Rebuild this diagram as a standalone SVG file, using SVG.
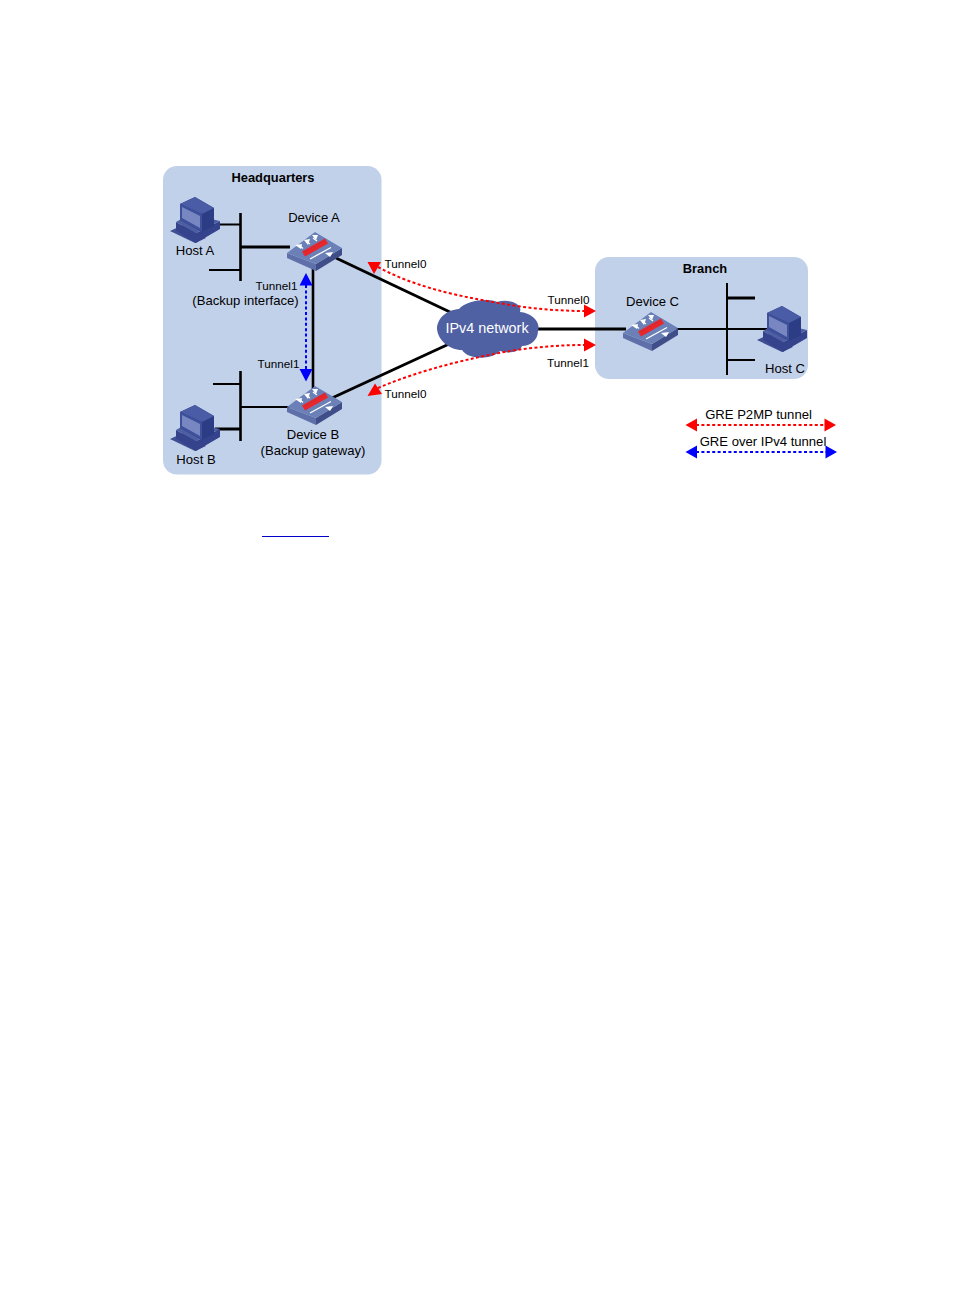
<svg xmlns="http://www.w3.org/2000/svg" width="954" height="1294" viewBox="0 0 954 1294">
  <style>
    text { font-family: "Liberation Sans", Arial, sans-serif; fill: #000; }
    .lbl { font-size: 13.100px; text-anchor: middle; }
    .tun { font-size: 11.700px; text-anchor: middle; }
    .hdr { font-size: 12.900px; font-weight: bold; text-anchor: middle; }
    .link { stroke: #000; fill: none; stroke-linecap: butt; }
    .red { stroke: #f00; stroke-width: 2; stroke-dasharray: 3 2.4; fill: none; }
    .blue { stroke: #00f; stroke-width: 2; stroke-dasharray: 3 2.4; fill: none; }
  </style>
  <defs>
    <!-- Router drawn at the Device A position; other routers are translated copies -->
    <g id="router">
      <path d="M287 253 L316 264 L316 271 L287 258 Z" fill="#5f6fa9"/>
      <path d="M316 264 L342 248 L342 255 L316 271 Z" fill="#3f4d88"/>
      <path d="M287 253 L315 232 L342 248 L316 264 Z" fill="#6a80b6"/>
      <path d="M302 251.500 L325 238.500 L328 243.500 L305 256.500 Z" fill="#e8262c"/>
      <path d="M305 251.500 L325 240.500" stroke="#a83040" stroke-width="0.800" stroke-dasharray="1.500 1.500" fill="none"/>
      <path d="M310 259 L331 247.500" stroke="#fff" stroke-width="1.300" fill="none"/>
      <path d="M325 253 L330 257 L333 252 Z" fill="#fff"/>
      <path d="M300 246 L303 248.500 M306 241 L310 244 M313 238 L317 241" stroke="#fff" stroke-width="1.300" fill="none"/>
      <path d="M295 245 L301 249 L302 244 Z M304 240 L308 245 L310 239 Z M312 235 L316 240 L318 235 Z" fill="#fff"/>
    </g>
    <!-- Desktop computer drawn at the Host A position -->
    <g id="host">
      <path d="M170 231 L183 225 L206 238 L195 243 Z" fill="#3f4e93"/>
      <path d="M175 231 L184 227 L199 237 L194 240 Z" fill="#4d5ea2"/>
      <path d="M176 222 L196 233 L220 221 L220 229 L196 243 L176 231 Z" fill="#34438c"/>
      <path d="M176 222 L190 214 L220 221 L196 233 Z" fill="#4d5ea2"/>
      <path d="M180 204 L195 197 L214 208 L214 226 L202 232 L180 220 Z" fill="#2c3c85"/>
      <path d="M180 204 L195 197 L214 208 L202 214 Z" fill="#4a5ca5"/>
      <path d="M180 204 L202 214 L202 232 L180 220 Z" fill="#3e5099"/>
      <path d="M182 207 L200 216 L200 228 L182 218 Z" fill="#7886c2"/>
    </g>
  </defs>

  <g id="regions">
    <rect id="headquarters" x="163" y="166" width="218.500" height="308.500" rx="14" fill="#c2d1ea"/>
    <rect id="branch" x="595" y="257" width="213" height="122" rx="14" fill="#c2d1ea"/>
  </g>
  <text class="hdr" x="273" y="182">Headquarters</text>
  <text class="hdr" x="705" y="273">Branch</text>

  <g id="connectors">
    <path class="link" stroke-width="2.600" d="M240.500 213 V281"/>
    <path class="link" stroke-width="2" d="M218 224.500 H240"/>
    <path class="link" stroke-width="3" d="M240 247 H290"/>
    <path class="link" stroke-width="2" d="M209 270 H240"/>
    <path class="link" stroke-width="2.600" d="M240.500 371 V441"/>
    <path class="link" stroke-width="2" d="M213 384 H240"/>
    <path class="link" stroke-width="2" d="M240 407 H290"/>
    <path class="link" stroke-width="3" d="M215 429 H240"/>
    <path class="link" stroke-width="2.600" d="M313 268 V392"/>
    <path class="link" stroke-width="3" d="M336 258 L452 313"/>
    <path class="link" stroke-width="3" d="M332 398 L449 344"/>
    <path class="link" stroke-width="3" d="M536 329 H626"/>
    <path class="link" stroke-width="2" d="M676 329 H768"/>
    <path class="link" stroke-width="2" d="M727 283 V375"/>
    <path class="link" stroke-width="3" d="M727 298 H755"/>
    <path class="link" stroke-width="2" d="M727 360 H755"/>
  </g>

  <g id="device-a"><use href="#router"/><text class="lbl" x="314" y="222">Device A</text></g>
  <g id="device-b"><use href="#router" transform="translate(0 154)"/><text class="lbl" x="313" y="439">Device B</text><text class="lbl" x="313" y="455">(Backup gateway)</text></g>
  <g id="device-c"><use href="#router" transform="translate(336 80)"/><text class="lbl" x="652.500" y="306">Device C</text></g>
  <g id="host-a"><use href="#host"/><text class="lbl" x="195" y="255">Host A</text></g>
  <g id="host-b"><use href="#host" transform="translate(0 208)"/><text class="lbl" x="196" y="464">Host B</text></g>
  <g id="host-c"><use href="#host" transform="translate(587 109)"/><text class="lbl" x="785" y="373">Host C</text></g>

  <g id="ipv4-network">
    <path d="M459 309 C467 300 488 298 497 302 C509 298 523 304 520 312 C532 313 541 322 538 331 C538 340 530 346 522 346 C520 352 508 354 500 351 C492 360 468 360 462 350 C449 350 438 340 437 329 C437 318 447 310 459 309 Z" fill="#4f61a3"/>
    <text x="487" y="333" font-size="14.400" text-anchor="middle" style="fill:#fff">IPv4 network</text>
  </g>

  <g id="tunnels">
    <path class="red" d="M378 267 C420 290 470 298 510 305 C535 309 560 311 585 311"/>
    <path class="red" d="M378 388 C420 370 470 358 510 351 C535 347 560 345 585 345"/>
    <path class="blue" d="M306 285 V370"/>
    <path d="M367.500 262 L381 262 L374 274 Z M596 311 L584 304.500 L584 317.500 Z M367.500 396 L375 383.500 L382 394 Z M596 345 L584 338.500 L584 351.500 Z" fill="#f00"/>
    <path d="M306 273 L299.500 285.500 L312.500 285.500 Z M306 381.500 L299.500 369 L312.500 369 Z" fill="#00f"/>
  </g>
  <g id="tunnel-labels">
    <text class="tun" x="405.500" y="268">Tunnel0</text>
    <text class="tun" x="568.500" y="304">Tunnel0</text>
    <text class="tun" x="568" y="367">Tunnel1</text>
    <text class="tun" x="405.500" y="398">Tunnel0</text>
    <text class="tun" x="276.500" y="290">Tunnel1</text>
    <text class="tun" x="278.500" y="368">Tunnel1</text>
    <text class="lbl" x="245.500" y="305">(Backup interface)</text>
  </g>

  <g id="legend">
    <path class="red" d="M696 425 H826"/>
    <path d="M685.500 425 L697 418.500 L697 431.500 Z M836 425 L824.500 418.500 L824.500 431.500 Z" fill="#f00"/>
    <text class="lbl" x="758.500" y="419">GRE P2MP tunnel</text>
    <path class="blue" d="M696 452 H827"/>
    <path d="M685.500 452 L697 445.500 L697 458.500 Z M837 452 L825.500 445.500 L825.500 458.500 Z" fill="#00f"/>
    <text class="lbl" x="763" y="446">GRE over IPv4 tunnel</text>
  </g>

  <path id="rule" d="M262 536.500 H329" stroke="#0000c8" stroke-width="1" fill="none"/>
</svg>
